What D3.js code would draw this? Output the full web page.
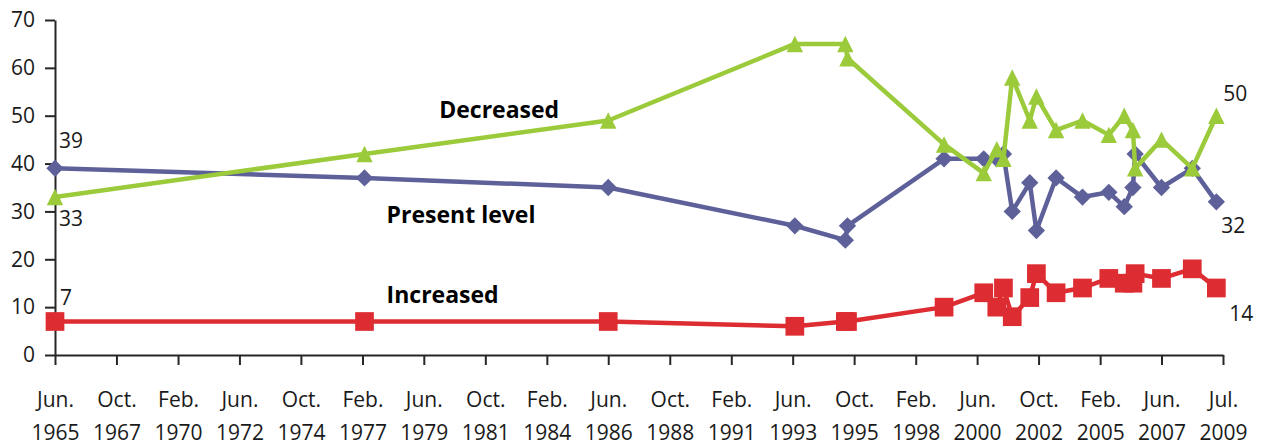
<!DOCTYPE html>
<meta charset="utf-8">
<style>
    body {
        margin: 0;
        background: #fff;
    }

    svg {
        font-family: 'Open Sans', sans-serif;
    }

    .axis path,
    .axis line {
        fill: none;
        stroke: #262626;
        stroke-width: 2px;
    }

    .axis text {
        font-size: 21px;
        fill: #1a1a1a;
        font-family: 'Open Sans', sans-serif;
    }

    .value-label {
        font-size: 21px;
        fill: #1a1a1a;
    }

    .series-label {
        font-size: 23px;
        font-weight: bold;
        fill: #000;
    }
</style>
<body>
<script src="https://d3js.org/d3.v7.min.js"></script>
<script>
    // poll dates (year-month) and the three answer shares, in %
    const dates = ['1965-06', '1977-03', '1986-06', '1993-07', '1995-06', '1995-07', '1999-03', '2000-09',
        '2001-03', '2001-06', '2001-10', '2002-06', '2002-09', '2003-06', '2004-06', '2005-06',
        '2006-01', '2006-05', '2006-06', '2007-06', '2008-08', '2009-07'];
    const presentLevel = [39, 37, 35, 27, 24, 27, 41, 41, 41, 42, 30, 36, 26, 37, 33, 34, 31, 35, 42, 35, 39, 32];
    const increased = [7, 7, 7, 6, 7, 7, 10, 13, 10, 14, 8, 12, 17, 13, 14, 16, 15, 15, 17, 16, 18, 14];
    const decreased = [33, 42, 49, 65, 65, 62, 44, 38, 43, 41, 58, 49, 54, 47, 49, 46, 50, 47, 39, 45, 39, 50];

    const tickDates = ['1965-06', '1967-10', '1970-02', '1972-06', '1974-10', '1977-02', '1979-06', '1981-10',
        '1984-02', '1986-06', '1988-10', '1991-02', '1993-06', '1995-10', '1998-02', '2000-06',
        '2002-10', '2005-02', '2007-06', '2009-10'];
    const tickMonths = ['Jun.', 'Oct.', 'Feb.', 'Jun.', 'Oct.', 'Feb.', 'Jun.', 'Oct.', 'Feb.', 'Jun.',
        'Oct.', 'Feb.', 'Jun.', 'Oct.', 'Feb.', 'Jun.', 'Oct.', 'Feb.', 'Jun.', 'Jul.'];
    const tickYears = ['1965', '1967', '1970', '1972', '1974', '1977', '1979', '1981', '1984', '1986',
        '1988', '1991', '1993', '1995', '1998', '2000', '2002', '2005', '2007', '2009'];
    const yTicks = [0, 10, 20, 30, 40, 50, 60, 70];

    const width = 1262;
    const height = 445;
    const margin = {top: 20, right: 39, bottom: 90, left: 55};

    const parse = d3.timeParse('%Y-%m');

    const x = d3.scaleTime()
        .domain([parse(tickDates[0]), parse(tickDates[tickDates.length - 1])])
        .range([margin.left, width - margin.right]);

    const y = d3.scaleLinear()
        .domain([0, 70])
        .range([height - margin.bottom, margin.top]);

    const svg = d3.select('body')
        .append('svg')
        .attr('width', width)
        .attr('height', height);

    // y axis
    svg.append('g')
        .attr('class', 'y axis')
        .attr('transform', 'translate(' + margin.left + ',0)')
        .call(d3.axisLeft(y).tickValues(yTicks).tickSize(10).tickSizeOuter(0).tickPadding(10));

    // x axis, labels drawn in two rows
    const xAxis = svg.append('g')
        .attr('class', 'x axis')
        .attr('transform', 'translate(0,' + (height - margin.bottom) + ')')
        .call(d3.axisBottom(x).tickValues(tickDates.map(parse)).tickSize(10).tickSizeOuter(0).tickFormat(''));

    xAxis.selectAll('.tick').each(function(d, i) {
        const t = d3.select(this);
        t.select('text').remove();
        t.append('text').attr('y', 52).attr('text-anchor', 'middle').text(tickMonths[i]);
        t.append('text').attr('y', 85).attr('text-anchor', 'middle').text(tickYears[i]);
    });

    const series = [
        {name: 'Present level', values: presentLevel, color: '#5e6099', shape: 'diamond'},
        {name: 'Increased', values: increased, color: '#dd2d32', shape: 'square'},
        {name: 'Decreased', values: decreased, color: '#9bca3a', shape: 'triangle'}
    ];

    const line = d3.line()
        .x(d => x(d.date))
        .y(d => y(d.value));

    // excel-like triangle: as tall as it is wide
    const boxTriangle = {
        draw(context, size) {
            const h = Math.sqrt(size) / 2;
            context.moveTo(0, -h);
            context.lineTo(h, h);
            context.lineTo(-h, h);
            context.closePath();
        }
    };

    const symbols = {
        diamond: d3.symbol().type(d3.symbolSquare).size(150),
        square: d3.symbol().type(d3.symbolSquare).size(350),
        triangle: d3.symbol().type(boxTriangle).size(270)
    };

    series.forEach(s => {
        const pts = dates.map((d, i) => ({date: parse(d), value: s.values[i]}));

        svg.append('path')
            .datum(pts)
            .attr('fill', 'none')
            .attr('stroke', s.color)
            .attr('stroke-width', 4.5)
            .attr('stroke-linejoin', 'round')
            .attr('d', line);

        svg.append('g')
            .selectAll('path')
            .data(pts)
            .enter().append('path')
            .attr('d', symbols[s.shape])
            .attr('fill', s.color)
            .attr('transform', d => {
                const r = s.shape === 'diamond' ? ' rotate(45)' : '';
                return 'translate(' + x(d.date) + ',' + y(d.value) + ')' + r;
            });
    });

    // first and last values
    const first = parse(dates[0]);
    const last = parse(dates[dates.length - 1]);
    const n = dates.length - 1;
    const valueLabels = [
        {date: first, value: presentLevel[0], dx: 4, dy: -20},
        {date: first, value: decreased[0], dx: 4, dy: 29},
        {date: first, value: increased[0], dx: 5, dy: -17},
        {date: last, value: decreased[n], dx: 7, dy: -15},
        {date: last, value: presentLevel[n], dx: 5, dy: 31},
        {date: last, value: increased[n], dx: 13, dy: 33}
    ];

    svg.selectAll('.value-label')
        .data(valueLabels)
        .enter().append('text')
        .attr('class', 'value-label')
        .attr('x', d => x(d.date) + d.dx)
        .attr('y', d => y(d.value) + d.dy)
        .text(d => d.value);

    // series names
    const seriesLabels = [
        {text: 'Decreased', date: parse('1980-01'), value: 49.6},
        {text: 'Present level', date: parse('1978-01'), value: 27.5},
        {text: 'Increased', date: parse('1978-01'), value: 10.9}
    ];

    svg.selectAll('.series-label')
        .data(seriesLabels)
        .enter().append('text')
        .attr('class', 'series-label')
        .attr('x', d => x(d.date))
        .attr('y', d => y(d.value))
        .text(d => d.text);
</script>
</body>
